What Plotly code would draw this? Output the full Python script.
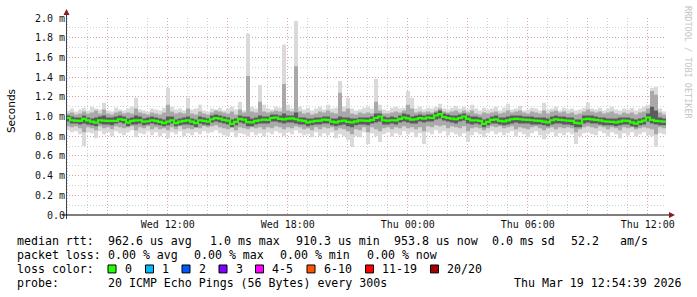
import plotly.graph_objects as go
import pandas as pd

# ---------------- data (milliseconds) ----------------
start_time = "2026-03-18 06:54:39"
end_time = "2026-03-19 12:54:39"
step_minutes = 12

median_ms = [
    0.985, 0.962, 0.958, 0.955, 0.975, 0.960, 0.948, 0.938, 0.962, 0.958,
    0.955, 0.955, 0.955, 0.972, 0.965, 0.938, 0.955, 0.960, 0.962, 0.948,
    0.952, 0.962, 0.955, 0.945, 0.932, 0.948, 0.962, 0.932, 0.948, 0.955,
    0.962, 0.948, 0.932, 0.962, 0.955, 0.948, 0.972, 0.985, 0.978, 0.965,
    0.958, 0.925, 0.945, 0.975, 0.968, 0.942, 0.940, 0.955, 0.962, 0.968,
    0.965, 0.985, 0.990, 0.975, 0.970, 0.978, 0.980, 0.972, 0.960, 0.955,
    0.940, 0.948, 0.955, 0.958, 0.968, 0.965, 0.948, 0.940, 0.952, 0.958,
    0.945, 0.940, 0.950, 0.960, 0.958, 0.955, 0.965, 0.985, 1.000, 0.962,
    0.958, 0.962, 0.960, 0.975, 0.990, 0.980, 0.968, 0.972, 0.985, 0.978,
    0.990, 0.985, 1.010, 1.025, 0.995, 0.985, 0.978, 0.972, 0.985, 1.000,
    0.975, 0.960, 0.962, 0.955, 0.925, 0.945, 0.965, 0.970, 0.955, 0.950,
    0.960, 0.972, 0.975, 0.972, 0.968, 0.965, 0.962, 0.958, 0.955, 0.948,
    0.940, 0.962, 0.972, 0.965, 0.962, 0.958, 0.955, 0.935, 0.930, 0.972,
    0.975, 0.970, 0.965, 0.960, 0.952, 0.948, 0.945, 0.940, 0.948, 0.958,
    0.955, 0.940, 0.928, 0.945, 0.958, 0.990, 0.965, 0.955, 0.952, 0.948,
]

max_ms = [
    1.06, 1.08, 1.05, 1.07, 1.09, 1.06, 1.10, 1.08, 1.07, 1.14,
    1.06, 1.05, 1.09, 1.07, 1.06, 1.08, 1.10, 1.19, 1.07, 1.06,
    1.05, 1.08, 1.07, 1.06, 1.09, 1.29, 1.10, 1.07, 1.08, 1.06,
    1.19, 1.07, 1.08, 1.12, 1.06, 1.05, 1.08, 1.07, 1.09, 1.06,
    1.08, 1.10, 1.07, 1.15, 1.06, 1.84, 1.10, 1.08, 1.32, 1.12,
    1.08, 1.07, 1.10, 1.09, 1.73, 1.12, 1.08, 1.97, 1.10, 1.07,
    1.09, 1.06, 1.08, 1.10, 1.07, 1.12, 1.08, 1.09, 1.36, 1.10,
    1.19, 1.08, 1.06, 1.07, 1.09, 1.10, 1.08, 1.38, 1.12, 1.07,
    1.06, 1.09, 1.10, 1.08, 1.09, 1.26, 1.19, 1.08, 1.10, 1.07,
    1.09, 1.08, 1.10, 1.13, 1.08, 1.07, 1.09, 1.11, 1.08, 1.10,
    1.07, 1.12, 1.08, 1.06, 1.09, 1.07, 1.08, 1.10, 1.06, 1.09,
    1.13, 1.07, 1.08, 1.11, 1.06, 1.07, 1.09, 1.08, 1.06, 1.14,
    1.07, 1.08, 1.10, 1.06, 1.09, 1.07, 1.08, 1.06, 1.07, 1.09,
    1.14, 1.08, 1.07, 1.09, 1.06, 1.08, 1.10, 1.07, 1.06, 1.08,
    1.07, 1.09, 1.06, 1.08, 1.10, 1.12, 1.29, 1.30, 1.08, 1.05,
]

min_ms = [
    0.86, 0.84, 0.85, 0.82, 0.70, 0.84, 0.83, 0.78, 0.85, 0.82,
    0.84, 0.80, 0.85, 0.83, 0.81, 0.84, 0.86, 0.79, 0.83, 0.82,
    0.85, 0.81, 0.84, 0.80, 0.83, 0.78, 0.84, 0.82, 0.85, 0.80,
    0.83, 0.81, 0.84, 0.82, 0.85, 0.83, 0.84, 0.86, 0.83, 0.81,
    0.80, 0.84, 0.79, 0.83, 0.82, 0.80, 0.84, 0.81, 0.83, 0.80,
    0.84, 0.82, 0.85, 0.83, 0.80, 0.84, 0.82, 0.86, 0.83, 0.81,
    0.82, 0.79, 0.84, 0.80, 0.83, 0.81, 0.84, 0.78, 0.82, 0.80,
    0.76, 0.69, 0.80, 0.79, 0.84, 0.72, 0.83, 0.80, 0.74, 0.82,
    0.84, 0.80, 0.83, 0.81, 0.85, 0.82, 0.84, 0.79, 0.83, 0.72,
    0.84, 0.82, 0.86, 0.83, 0.85, 0.81, 0.84, 0.82, 0.80, 0.83,
    0.74, 0.81, 0.84, 0.82, 0.79, 0.83, 0.85, 0.82, 0.84, 0.81,
    0.83, 0.85, 0.80, 0.84, 0.82, 0.79, 0.83, 0.85, 0.81, 0.77,
    0.82, 0.84, 0.80, 0.83, 0.81, 0.84, 0.82, 0.72, 0.80, 0.83,
    0.84, 0.82, 0.81, 0.85, 0.83, 0.80, 0.84, 0.82, 0.78, 0.83,
    0.81, 0.84, 0.80, 0.82, 0.84, 0.81, 0.80, 0.69, 0.83, 0.82,
]

p85_ms = [
    1.03, 1.04, 1.02, 1.03, 1.05, 1.03, 1.04, 1.06, 1.03, 1.07,
    1.03, 1.02, 1.04, 1.05, 1.03, 1.04, 1.03, 1.08, 1.04, 1.03,
    1.02, 1.04, 1.03, 1.02, 1.04, 1.12, 1.05, 1.03, 1.04, 1.03,
    1.08, 1.03, 1.02, 1.05, 1.03, 1.02, 1.04, 1.06, 1.05, 1.04,
    1.03, 1.05, 1.02, 1.07, 1.04, 1.41, 1.05, 1.04, 1.15, 1.05,
    1.04, 1.05, 1.06, 1.05, 1.33, 1.06, 1.05, 1.51, 1.05, 1.03,
    1.04, 1.02, 1.03, 1.05, 1.04, 1.06, 1.04, 1.03, 1.24, 1.05,
    1.08, 1.03, 1.02, 1.04, 1.03, 1.04, 1.03, 1.15, 1.06, 1.03,
    1.03, 1.04, 1.05, 1.04, 1.06, 1.12, 1.08, 1.04, 1.05, 1.04,
    1.05, 1.04, 1.06, 1.08, 1.05, 1.04, 1.05, 1.06, 1.04, 1.06,
    1.04, 1.06, 1.03, 1.02, 1.04, 1.03, 1.04, 1.05, 1.03, 1.04,
    1.06, 1.04, 1.05, 1.06, 1.04, 1.03, 1.05, 1.04, 1.03, 1.06,
    1.03, 1.05, 1.06, 1.04, 1.05, 1.03, 1.04, 1.02, 1.03, 1.05,
    1.07, 1.05, 1.04, 1.05, 1.03, 1.04, 1.05, 1.03, 1.02, 1.04,
    1.03, 1.04, 1.02, 1.04, 1.05, 1.08, 1.26, 1.22, 1.04, 1.02,
]

p15_ms = [
    0.90, 0.89, 0.90, 0.88, 0.84, 0.89, 0.88, 0.86, 0.90, 0.88,
    0.89, 0.87, 0.90, 0.89, 0.88, 0.89, 0.90, 0.86, 0.89, 0.88,
    0.90, 0.87, 0.89, 0.87, 0.88, 0.86, 0.89, 0.87, 0.90, 0.87,
    0.88, 0.87, 0.89, 0.88, 0.90, 0.89, 0.90, 0.91, 0.89, 0.88,
    0.87, 0.89, 0.86, 0.89, 0.88, 0.87, 0.89, 0.88, 0.89, 0.87,
    0.89, 0.88, 0.90, 0.89, 0.87, 0.89, 0.88, 0.90, 0.89, 0.87,
    0.88, 0.86, 0.89, 0.87, 0.89, 0.88, 0.89, 0.86, 0.88, 0.87,
    0.85, 0.82, 0.87, 0.86, 0.89, 0.84, 0.89, 0.87, 0.85, 0.88,
    0.89, 0.87, 0.89, 0.88, 0.90, 0.88, 0.89, 0.87, 0.89, 0.85,
    0.90, 0.89, 0.91, 0.90, 0.91, 0.88, 0.90, 0.89, 0.88, 0.90,
    0.85, 0.88, 0.89, 0.88, 0.86, 0.88, 0.90, 0.89, 0.90, 0.88,
    0.89, 0.90, 0.87, 0.89, 0.88, 0.87, 0.89, 0.90, 0.88, 0.86,
    0.88, 0.89, 0.87, 0.89, 0.88, 0.89, 0.88, 0.84, 0.87, 0.89,
    0.90, 0.89, 0.88, 0.90, 0.89, 0.87, 0.89, 0.88, 0.86, 0.89,
    0.88, 0.89, 0.87, 0.88, 0.89, 0.88, 0.87, 0.82, 0.89, 0.88,
]

p65_ms = [
    1.01, 1.00, 0.99, 0.99, 1.01, 0.99, 0.98, 0.99, 1.00, 1.01,
    0.99, 0.99, 1.00, 1.01, 1.00, 0.98, 0.99, 1.01, 1.00, 0.98,
    0.99, 1.00, 0.99, 0.98, 0.97, 1.00, 1.00, 0.97, 0.98, 0.99,
    1.00, 0.98, 0.97, 1.00, 0.99, 0.98, 1.01, 1.02, 1.01, 1.00,
    0.99, 0.97, 0.98, 1.01, 1.00, 1.00, 0.98, 0.99, 1.01, 1.00,
    1.00, 1.02, 1.02, 1.01, 1.03, 1.01, 1.01, 1.04, 0.99, 0.99,
    0.98, 0.98, 0.99, 0.99, 1.00, 1.00, 0.98, 0.98, 1.00, 0.99,
    0.99, 0.98, 0.98, 0.99, 0.99, 0.99, 1.00, 1.03, 1.03, 1.00,
    0.99, 1.00, 0.99, 1.01, 1.03, 1.02, 1.00, 1.01, 1.02, 1.01,
    1.02, 1.02, 1.04, 1.06, 1.03, 1.02, 1.01, 1.01, 1.02, 1.03,
    1.01, 1.00, 1.00, 0.99, 0.97, 0.98, 1.00, 1.01, 0.99, 0.99,
    1.00, 1.01, 1.01, 1.01, 1.00, 1.00, 1.00, 0.99, 0.99, 0.99,
    0.98, 1.00, 1.01, 1.00, 1.00, 0.99, 0.99, 0.97, 0.97, 1.01,
    1.01, 1.01, 1.00, 0.99, 0.99, 0.98, 0.98, 0.98, 0.99, 0.99,
    0.99, 0.98, 0.97, 0.98, 0.99, 1.03, 1.10, 1.06, 0.99, 0.98,
]

p35_ms = [
    0.95, 0.93, 0.93, 0.92, 0.93, 0.92, 0.91, 0.90, 0.93, 0.92,
    0.92, 0.91, 0.93, 0.94, 0.93, 0.90, 0.92, 0.92, 0.93, 0.91,
    0.92, 0.93, 0.92, 0.91, 0.90, 0.91, 0.93, 0.90, 0.91, 0.92,
    0.92, 0.91, 0.89, 0.93, 0.92, 0.91, 0.94, 0.95, 0.94, 0.93,
    0.92, 0.89, 0.91, 0.94, 0.93, 0.90, 0.90, 0.92, 0.93, 0.93,
    0.93, 0.95, 0.95, 0.94, 0.93, 0.94, 0.94, 0.93, 0.92, 0.92,
    0.90, 0.91, 0.92, 0.92, 0.93, 0.93, 0.91, 0.90, 0.91, 0.92,
    0.90, 0.89, 0.91, 0.92, 0.92, 0.91, 0.93, 0.94, 0.95, 0.92,
    0.92, 0.93, 0.92, 0.94, 0.95, 0.94, 0.93, 0.93, 0.95, 0.94,
    0.95, 0.95, 0.97, 0.98, 0.96, 0.95, 0.94, 0.93, 0.95, 0.96,
    0.93, 0.92, 0.93, 0.92, 0.89, 0.91, 0.93, 0.93, 0.92, 0.91,
    0.92, 0.93, 0.94, 0.93, 0.93, 0.93, 0.92, 0.92, 0.92, 0.91,
    0.90, 0.92, 0.93, 0.93, 0.92, 0.92, 0.91, 0.89, 0.89, 0.93,
    0.94, 0.93, 0.93, 0.92, 0.91, 0.91, 0.91, 0.90, 0.91, 0.92,
    0.92, 0.90, 0.89, 0.91, 0.92, 0.95, 0.93, 0.92, 0.91, 0.91,
]

y_tick_values = [0.0, 0.2, 0.4, 0.6, 0.8, 1.0, 1.2, 1.4, 1.6, 1.8, 2.0]
y_tick_labels = ["0.0", "0.2 m", "0.4 m", "0.6 m", "0.8 m", "1.0 m",
                 "1.2 m", "1.4 m", "1.6 m", "1.8 m", "2.0 m"]

stats_rtt = [("median rtt:", 16), ("962.6 us avg", 107), ("1.0 ms max", 209),
             ("910.3 us min", 295), ("953.8 us now", 393), ("0.0 ms sd", 491),
             ("52.2", 570), ("am/s", 619)]
stats_loss = [("packet loss:", 16), ("0.00 % avg", 107), ("0.00 % max", 193),
              ("0.00 % min", 279), ("0.00 % now", 366)]
loss_labels = ["0", "1", "2", "3", "4-5", "6-10", "11-19", "20/20"]
loss_colors = ["#26ff00", "#00b8ff", "#0059ff", "#7e00ff", "#ff00ff",
               "#ff5500", "#ff0000", "#a10000"]
loss_box_x = [108, 145.5, 182, 219, 255.5, 307, 365.5, 430.5]
probe_text = "20 ICMP Echo Pings (56 Bytes) every 300s"
stamp_text = "Thu Mar 19 12:54:39 2026"

# ---------------- layout geometry ----------------
W, H = 697, 297
L, T, PW, PH = 66, 16, 600, 199
R, B = W - L - PW, H - T - PH


def xp(px):
    return (px - L) / PW


def yp(py):
    return (T + PH - py) / PH


t0 = pd.Timestamp(start_time)
t1 = pd.Timestamp(end_time)
n = len(median_ms)
times = [t0 + pd.Timedelta(minutes=step_minutes * i) for i in range(n)] + [t1]


def ext(a):
    return list(a) + [a[-1]]


fig = go.Figure()
bands = [(min_ms, max_ms, "#dadada"), (p15_ms, p85_ms, "#a9a9a9"),
         (p35_ms, p65_ms, "#5c5c5c")]
for lo, hi, col in bands:
    fig.add_trace(go.Scatter(x=times, y=ext(lo), mode="lines",
                             line=dict(width=0, shape="hv"),
                             hoverinfo="skip", showlegend=False))
    fig.add_trace(go.Scatter(x=times, y=ext(hi), mode="lines",
                             line=dict(width=0, shape="hv"), fill="tonexty",
                             fillcolor=col, hoverinfo="skip", showlegend=False))

fig.add_trace(go.Scatter(x=times, y=ext(median_ms), mode="lines", xaxis="x2",
                         line=dict(color="#26ff00", width=2.2, shape="hv"),
                         showlegend=False))

MINOR = "#cfcfcf"
MAJOR = "#d9a3a3"
DOT = "1px,2px"
tick_font = dict(family="DejaVu Sans Mono", size=10, color="#111111")
rng = [t0, t1]

fig.update_layout(
    width=W, height=H, margin=dict(l=L, r=R, t=T, b=B),
    paper_bgcolor="white", plot_bgcolor="white", showlegend=False,
    xaxis=dict(range=rng, type="date", tickformat="%a %H:%M",
               tick0="2026-03-18 00:00", dtick=6 * 3600000,
               showgrid=False, zeroline=False, showline=False, ticks="",
               tickfont=tick_font, ticklabelstandoff=2,
               minor=dict(dtick=3600000, tick0="2026-03-18 00:00",
                          showgrid=True, gridcolor=MINOR, griddash=DOT,
                          gridwidth=1, ticks="")),
    xaxis2=dict(range=rng, type="date", overlaying="x", anchor="y",
                side="bottom", tick0="2026-03-18 00:00", dtick=3 * 3600000,
                showgrid=True, gridcolor=MAJOR, griddash=DOT, gridwidth=1,
                showticklabels=False, ticks="", zeroline=False,
                showline=False),
    yaxis=dict(range=[0, 2.0], tickvals=y_tick_values, ticktext=y_tick_labels,
               showgrid=True, gridcolor=MAJOR, griddash=DOT, gridwidth=1,
               zeroline=False, showline=False, ticks="", tickfont=tick_font,
               minor=dict(dtick=0.1, showgrid=True, gridcolor=MINOR,
                          griddash=DOT, gridwidth=1, ticks="")),
)

shapes = []
# axis lines with arrows
shapes.append(dict(type="line", xref="paper", yref="paper",
                   x0=xp(66.5), x1=xp(66.5), y0=yp(219), y1=yp(12),
                   line=dict(color="#444444", width=1)))
shapes.append(dict(type="line", xref="paper", yref="paper",
                   x0=xp(62), x1=xp(671), y0=yp(215), y1=yp(215),
                   line=dict(color="#000000", width=1)))
shapes.append(dict(type="path", xref="paper", yref="paper",
                   path=f"M {xp(63.5)} {yp(13)} L {xp(69.5)} {yp(13)} L {xp(66.5)} {yp(7)} Z",
                   fillcolor="#8b1a1a", line=dict(width=0)))
shapes.append(dict(type="path", xref="paper", yref="paper",
                   path=f"M {xp(669)} {yp(212)} L {xp(669)} {yp(218)} L {xp(675)} {yp(215)} Z",
                   fillcolor="#8b1a1a", line=dict(width=0)))
# loss colour boxes
for bx, col in zip(loss_box_x, loss_colors):
    shapes.append(dict(type="rect", xref="paper", yref="paper",
                       x0=xp(bx), x1=xp(bx + 8), y0=yp(273.5), y1=yp(265.5),
                       fillcolor=col, line=dict(color="#000000", width=1)))
fig.update_layout(shapes=shapes)

legend_font = dict(family="DejaVu Sans Mono", size=11.6, color="#000000")
ann = []


def add_text(txt, px, py, font=legend_font):
    ann.append(dict(text=txt, x=xp(px), y=yp(py), xref="paper", yref="paper",
                    xanchor="left", yanchor="middle", showarrow=False,
                    font=font, borderpad=0))


for txt, px in stats_rtt:
    add_text(txt, px, 241.5)
for txt, px in stats_loss:
    add_text(txt, px, 255.5)
add_text("loss color:", 16, 269.5)
for bx, lab in zip(loss_box_x, loss_labels):
    add_text(lab, bx + 15.5, 269.5)
add_text("probe:", 16, 283.5)
add_text(probe_text, 107, 283.5)
add_text(stamp_text, 513, 283.5)

ann.append(dict(text="Seconds", x=xp(11), y=yp(110), xref="paper", yref="paper",
                xanchor="center", yanchor="middle", showarrow=False,
                textangle=-90, font=dict(family="DejaVu Sans", size=10.5,
                                         color="#000000")))
ann.append(dict(text="RRDTOOL / TOBI OETIKER", x=xp(688.5), y=yp(61),
                xref="paper", yref="paper", xanchor="center", yanchor="middle",
                showarrow=False, textangle=90,
                font=dict(family="DejaVu Sans Mono", size=8.5, color="#c4c4c4")))
fig.update_layout(annotations=ann)

fig.write_html("out.html")
